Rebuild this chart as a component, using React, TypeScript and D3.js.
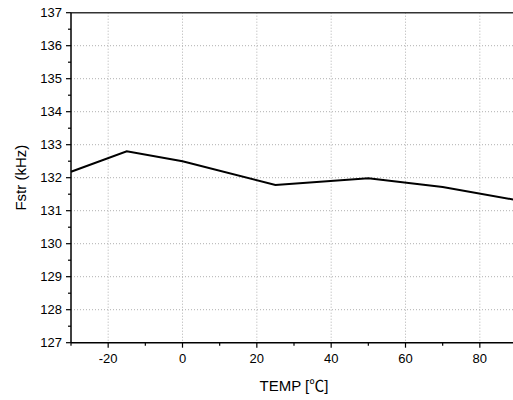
import React from "react";
import * as d3 from "d3";

const temps = [-30, -15, 0, 25, 50, 70, 90];
const fstr = [132.18, 132.8, 132.5, 131.78, 131.98, 131.72, 131.32];
const xTicks = [-20, 0, 20, 40, 60, 80];
const yTicks = [127, 128, 129, 130, 131, 132, 133, 134, 135, 136, 137];
const xMinor = [-30, -10, 10, 30, 50, 70, 90];
const yMinor = [127.5, 128.5, 129.5, 130.5, 131.5, 132.5, 133.5, 134.5, 135.5, 136.5];

const W = 513;
const H = 400;
const L = 71;
const R = 517;
const T = 12.7;
const B = 342.7;

export default function App() {
  const x = d3.scaleLinear().domain([-30, 90]).range([L, R]);
  const y = d3.scaleLinear().domain([127, 137]).range([B, T]);
  const line = d3
    .line<number>()
    .x((_, i) => x(temps[i]))
    .y((d) => y(d));
  const font = "'Liberation Sans', Arial, sans-serif";
  return (
    <div style={{ position: "absolute", left: 0, top: 0 }}>
      <svg width={W} height={H} style={{ display: "block", background: "#fff" }}>
        <rect x={0} y={0} width={W} height={H} fill="#fff" />
        {xTicks.map((t) => (
          <line key={"gx" + t} x1={x(t)} x2={x(t)} y1={T} y2={B} stroke="#b0b0b0" strokeWidth={1} strokeDasharray="1,2" />
        ))}
        {yTicks.slice(1, -1).map((t) => (
          <line key={"gy" + t} x1={L} x2={R} y1={y(t)} y2={y(t)} stroke="#b0b0b0" strokeWidth={1} strokeDasharray="1,2" />
        ))}
        <line x1={L} x2={R} y1={T} y2={T} stroke="#333" strokeWidth={1.5} />
        <path d={line(fstr) || ""} fill="none" stroke="#000" strokeWidth={2} strokeLinejoin="miter" />
        <line x1={L} x2={L} y1={T} y2={B} stroke="#000" strokeWidth={1.5} />
        <line x1={L} x2={R} y1={B} y2={B} stroke="#000" strokeWidth={1.5} />
        {yTicks.map((t) => (
          <g key={"yt" + t}>
            <line x1={L - 5} x2={L} y1={y(t)} y2={y(t)} stroke="#000" strokeWidth={1.2} />
            <text x={L - 9} y={y(t)} dy="0.35em" textAnchor="end" fontFamily={font} fontSize={13} fill="#000">
              {t}
            </text>
          </g>
        ))}
        {yMinor.map((t) => (
          <line key={"ym" + t} x1={L - 3} x2={L} y1={y(t)} y2={y(t)} stroke="#000" strokeWidth={1.2} />
        ))}
        {xTicks.map((t) => (
          <g key={"xt" + t}>
            <line x1={x(t)} x2={x(t)} y1={B} y2={B + 5} stroke="#000" strokeWidth={1.2} />
            <text x={x(t)} y={B + 20.5} textAnchor="middle" fontFamily={font} fontSize={13} fill="#000">
              {t}
            </text>
          </g>
        ))}
        {xMinor.map((t) => (
          <line key={"xm" + t} x1={x(t)} x2={x(t)} y1={B} y2={B + 3} stroke="#000" strokeWidth={1.2} />
        ))}
        <text x={(L + R) / 2} y={391} textAnchor="middle" fontFamily={font} fontSize={15} fill="#000">
          TEMP [<tspan fontFamily="'Noto Sans CJK SC', sans-serif">℃</tspan>]
        </text>
        <text
          transform={`translate(26, ${(T + B) / 2}) rotate(-90)`}
          textAnchor="middle"
          fontFamily={font}
          fontSize={15}
          fill="#000"
        >
          Fstr (kHz)
        </text>
      </svg>
    </div>
  );
}
